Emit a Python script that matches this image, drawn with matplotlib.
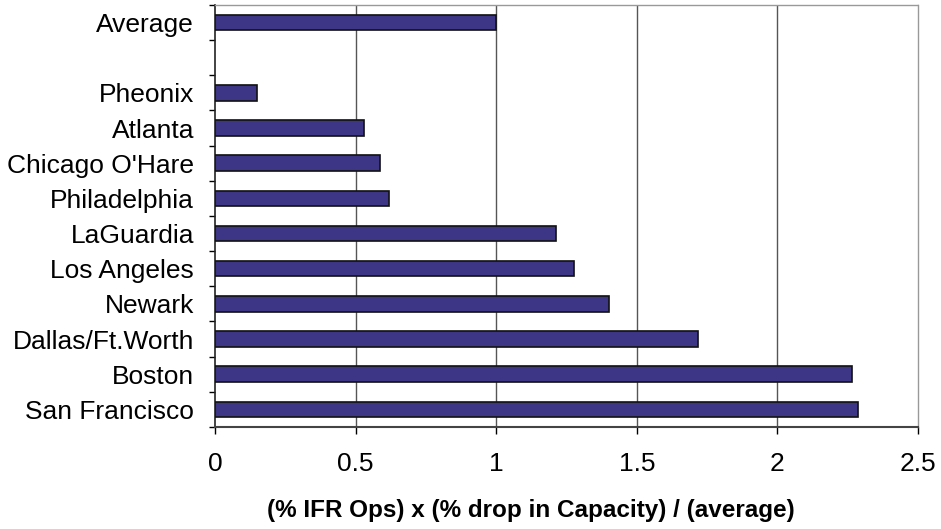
import numpy as np
import matplotlib.pyplot as plt

plt.rcParams['font.family'] = ['Liberation Sans', 'DejaVu Sans']

# top to bottom, "" is the empty slot under Average
airports = ["Average", "", "Pheonix", "Atlanta", "Chicago O'Hare", "Philadelphia",
            "LaGuardia", "Los Angeles", "Newark", "Dallas/Ft.Worth", "Boston",
            "San Francisco"]
values = [1.0, 0.0, 0.15, 0.53, 0.587, 0.617, 1.212, 1.276, 1.402, 1.716, 2.266, 2.286]
xticks = [0, 0.5, 1, 1.5, 2, 2.5]
xticklabels = ["0", "0.5", "1", "1.5", "2", "2.5"]

fig = plt.figure(figsize=(9.41, 5.29), dpi=100)
ax = fig.add_axes([0.2285, 0.193, 0.747, 0.7975])

n = len(airports)
ypos = np.arange(n)[::-1]
for y, v, name in zip(ypos, values, airports):
    if name == "":
        continue
    ax.barh(y, v, height=0.44, color='#3d3586', edgecolor='#111111', linewidth=1.2, zorder=3)

ax.set_xlim(0, 2.5)
ax.set_ylim(-0.5, n - 0.5)

for g in xticks[1:-1]:
    ax.axvline(g, color='#555555', linewidth=1.0, zorder=1)

ax.set_xticks(xticks)
ax.set_xticklabels(xticklabels, fontsize=19)
ax.tick_params(axis='x', direction='out', length=5, width=1, pad=13)

ax.set_yticks(np.arange(n + 1) - 0.5)
ax.set_yticklabels([])
ax.set_yticks(ypos, minor=True)
ax.set_yticklabels(airports, minor=True, fontsize=19)
ax.tick_params(axis='y', which='major', direction='out', length=4.5, width=1)
ax.tick_params(axis='y', which='minor', length=0, pad=15)

ax.spines['left'].set_color('#222222')
ax.spines['left'].set_linewidth(1.2)
ax.spines['bottom'].set_color('#444444')
ax.spines['bottom'].set_linewidth(1.5)
for s in ['top', 'right']:
    ax.spines[s].set_color('#999999')
    ax.spines[s].set_linestyle((0, (2, 1)))
    ax.spines[s].set_linewidth(1.0)

fig.text(531 / 941, 1 - 510 / 529, "(% IFR Ops) x (% drop in Capacity) / (average)",
         ha='center', va='center', fontsize=17.5, fontweight='bold')

fig.savefig("out.png", dpi=100)
